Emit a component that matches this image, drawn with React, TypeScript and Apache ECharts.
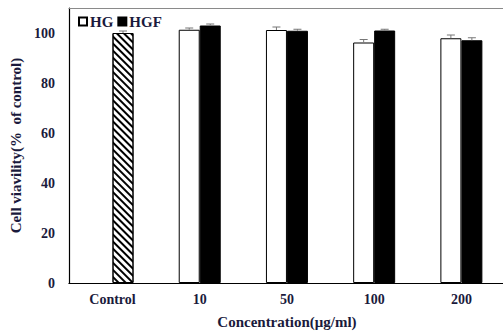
import React, { useEffect, useRef } from "react";
import * as echarts from "echarts";

const categories = ["Control", "10", "50", "100", "200"];
const controlValue = 100;
const controlErr = 0.8;
const hgValues = [null, 101.3, 101.2, 96.2, 97.9];
const hgErr = [0, 0.7, 1.2, 1.2, 1.3];
const hgfValues = [103.0, 100.9, 101.0, 97.1];
const hgfErr = [0.6, 0.6, 0.5, 1.0];
const yTicks = { min: 0, max: 110, interval: 20 };

const BAR_W = 21;
const FONT = "'Liberation Serif', 'DejaVu Serif', serif";
const TEXT = "#1a1a3c";

export default function App() {
  const ref = useRef<HTMLDivElement>(null);
  useEffect(() => {
    if (!ref.current) return;
    document.body.style.overflow = "hidden";
    document.body.style.margin = "0";
    const chart = echarts.init(ref.current, null, { renderer: "svg" });

    const hgfData: any[] = [
      {
        value: controlValue,
        itemStyle: {
          color: "#ffffff",
          borderColor: "#000",
          borderWidth: 1,
          decal: {
            symbol: "rect",
            symbolSize: 1,
            color: "#000",
            backgroundColor: "#fff",
            dashArrayX: [1, 0],
            dashArrayY: [2, 3],
            rotation: Math.PI / 4,
          },
        },
      },
      ...hgfValues,
    ];

    const errData: any[] = [];
    errData.push([0, controlValue, controlErr, 1]);
    hgValues.forEach((v, i) => {
      if (v != null) errData.push([i, v, hgErr[i], -1]);
    });
    hgfValues.forEach((v, i) => {
      errData.push([i + 1, v, hgfErr[i], 1]);
    });

    chart.setOption({
      animation: false,
      grid: {
        left: 65,
        width: 440,
        top: 8,
        height: 277,
        show: false,
        containLabel: false,
      },
      legend: {
        data: ["HG", "HGF"],
        left: 73,
        top: 9,
        icon: "rect",
        itemWidth: 8,
        itemHeight: 8,
        itemGap: 4,
        textStyle: {
          fontFamily: FONT,
          fontWeight: "bold",
          fontSize: 15,
          color: TEXT,
          padding: [0, 0, 0, -2],
        },
      },
      xAxis: [
        {
          type: "category",
          data: categories,
          name: "Concentration(μg/ml)",
          nameLocation: "middle",
          nameGap: 31,
          nameTextStyle: {
            fontFamily: FONT,
            fontWeight: "bold",
            fontSize: 15,
            color: TEXT,
          },
          axisLine: { lineStyle: { color: "#000", width: 1.2 } },
          axisTick: { show: false },
          axisLabel: {
            fontFamily: FONT,
            fontWeight: "bold",
            fontSize: 14,
            color: TEXT,
            margin: 9,
          },
        },
        {
          type: "category",
          data: categories,
          position: "top",
          axisLine: { show: true, lineStyle: { color: "#8a8a8a", width: 1 } },
          axisTick: { show: false },
          axisLabel: { show: false },
        },
      ],
      yAxis: {
        type: "value",
        min: yTicks.min,
        max: yTicks.max,
        interval: yTicks.interval,
        name: "Cell viavility(%  of control)",
        nameLocation: "middle",
        nameGap: 45,
        nameTextStyle: {
          fontFamily: FONT,
          fontWeight: "bold",
          fontSize: 15,
          color: TEXT,
        },
        axisLine: { show: true, lineStyle: { color: "#000", width: 1.2 } },
        axisTick: { show: false },
        splitLine: { show: false },
        axisLabel: {
          fontFamily: FONT,
          fontWeight: "bold",
          fontSize: 14,
          color: TEXT,
          margin: 14,
          showMaxLabel: false,
        },
      },
      series: [
        {
          name: "HG",
          type: "bar",
          data: hgValues,
          barWidth: BAR_W,
          barGap: "0%",
          itemStyle: { color: "#ffffff", borderColor: "#000", borderWidth: 1 },
        },
        {
          name: "HGF",
          type: "bar",
          data: hgfData,
          barWidth: BAR_W,
          barGap: "0%",
          itemStyle: { color: "#000000", borderColor: "#000", borderWidth: 1 },
        },
        {
          type: "custom",
          data: errData,
          encode: { x: 0, y: 1 },
          z: 10,
          renderItem: (params: any, api: any) => {
            const cat = api.value(0);
            const v = api.value(1);
            const e = api.value(2);
            const side = api.value(3);
            const p0 = api.coord([cat, v]);
            const p1 = api.coord([cat, v + e]);
            const x = p0[0] + (side * BAR_W) / 2;
            const style = { stroke: "#777", lineWidth: 1 };
            return {
              type: "group",
              children: [
                { type: "line", shape: { x1: x, y1: p0[1], x2: x, y2: p1[1] }, style },
                { type: "line", shape: { x1: x - 4, y1: p1[1], x2: x + 4, y2: p1[1] }, style },
              ],
            };
          },
        },
      ],
    });
    return () => chart.dispose();
  }, []);
  return (
    <div
      ref={ref}
      style={{ position: "fixed", left: 0, top: 0, width: 508, height: 334, background: "#fff" }}
    />
  );
}
